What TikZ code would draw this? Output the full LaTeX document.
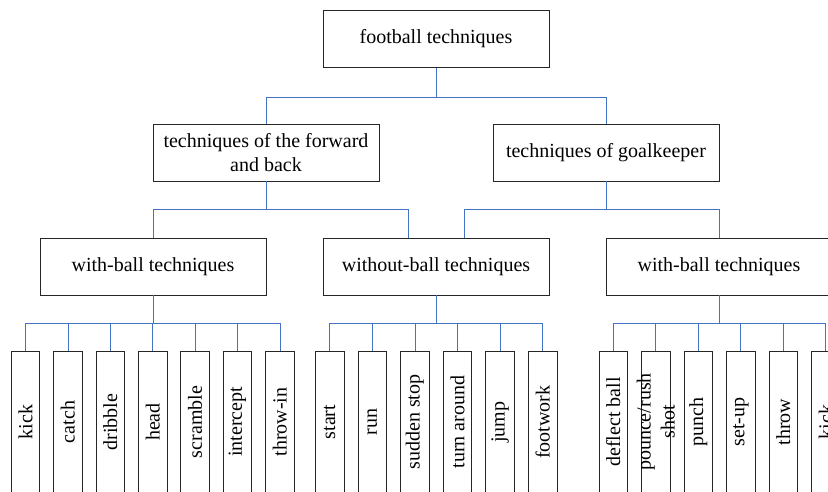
\documentclass[tikz,border=0pt]{standalone}
\usepackage{fontspec}
\setmainfont{Liberation Serif}
\usetikzlibrary{calc}
\definecolor{linkblue}{RGB}{68,114,196}

\tikzset{
  box/.style={draw=black!85, line width=0.9pt, minimum width=226pt, minimum height=57pt,
    inner sep=0pt, align=center, font=\fontsize{20}{24}\selectfont},
  leaf/.style={draw=black!85, line width=0.9pt, minimum width=28.5pt, minimum height=142pt,
    inner sep=0pt},
  leaftext/.style={rotate=90, align=center, font=\fontsize{20}{24}\selectfont},
  link/.style={draw=linkblue, line width=0.8pt}
}

\begin{document}
\begin{tikzpicture}[x=1pt,y=-1pt]

  \useasboundingbox (0,0) rectangle (828,491);
  \clip (0,0) rectangle (828,491);

  \node[box] (top) at (436,39) {football techniques};

  \node[box] (fb) at (266,152.5) {techniques of the forward\\and back};
  \node[box] (gk) at (606,152.5) {techniques of goalkeeper};
  \draw[link] (top.south) -- ++(0,29) -| (fb.north);
  \draw[link] (top.south) -- ++(0,29) -| (gk.north);

  \node[box] (wb1) at (153,266.5) {with-ball techniques};
  \node[box] (wob) at (436,266.5) {without-ball techniques};
  \node[box] (wb2) at (719,266.5) {with-ball techniques};
  \draw[link] (fb.south) -- ++(0,28) -| (wb1.north);
  \draw[link] (fb.south) -- ++(0,28) -| ([xshift=-28pt]wob.north);
  \draw[link] (gk.south) -- ++(0,28) -| ([xshift=28pt]wob.north);
  \draw[link] (gk.south) -- ++(0,28) -| (wb2.north);

  \foreach \x/\name/\txt in {25.5/a1/kick, 67.9/a2/catch, 110.3/a3/dribble,
    152.7/a4/head, 195.1/a5/scramble, 237.5/a6/intercept, 279.9/a7/throw-in}{
    \node[leaf] (\name) at (\x,422) {};
    \node[leaftext] at (\name) {\txt};
    \draw[link] (wb1.south) -- ++(0,28) -| (\name.north);
  }

  \foreach \x/\name/\txt in {329.7/b1/start, 372.3/b2/run, 414.9/b3/sudden stop,
    457.5/b4/turn around, 500.1/b5/jump, 542.7/b6/footwork}{
    \node[leaf] (\name) at (\x,422) {};
    \node[leaftext] at (\name) {\txt};
    \draw[link] (wob.south) -- ++(0,28) -| (\name.north);
  }

  \foreach \x/\name/\txt in {613.3/c1/deflect ball, 655.8/c2/{pounce/rush\\shot},
    698.3/c3/punch, 740.8/c4/set-up, 783.3/c5/throw, 825.8/c6/kick}{
    \node[leaf] (\name) at (\x,422) {};
    \node[leaftext] at (\name) {\txt};
    \draw[link] (wb2.south) -- ++(0,28) -| (\name.north);
  }

\end{tikzpicture}
\end{document}
